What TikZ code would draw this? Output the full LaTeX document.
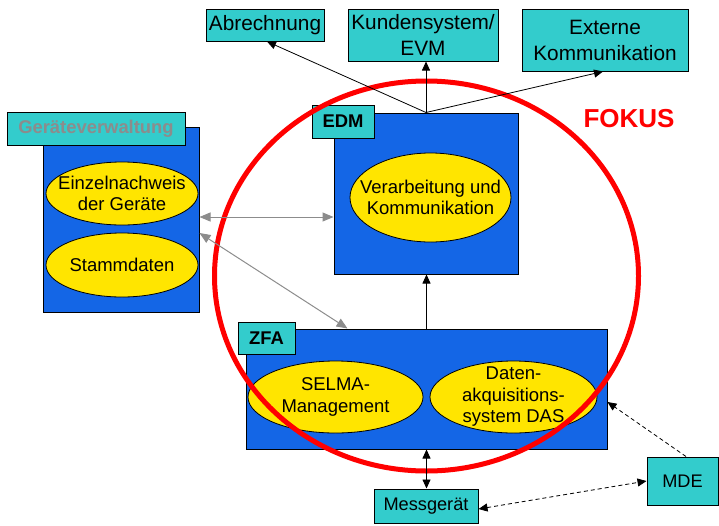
\documentclass[tikz,border=0pt]{standalone}
\usepackage{fontspec}
\setmainfont{Liberation Sans}
\usetikzlibrary{arrows.meta,shapes.geometric}
\definecolor{teal1}{RGB}{51,204,204}
\definecolor{blue1}{RGB}{20,102,230}
\definecolor{yel1}{RGB}{255,229,0}
\definecolor{gray1}{RGB}{140,140,140}
\definecolor{red1}{RGB}{255,0,0}
\tikzset{
  topbox/.style={draw=black,fill=teal1,line width=1pt,inner sep=0pt,align=center,
    font=\fontsize{20.8}{26}\selectfont},
  smallbox/.style={draw=black,fill=teal1,line width=1pt,inner sep=0pt,align=center,
    font=\fontsize{18.2}{22}\selectfont},
  bluebox/.style={draw=black,fill=blue1,line width=1pt,inner sep=0pt},
  tagbox/.style={draw=black,fill=teal1,line width=1pt,inner sep=0pt,
    font=\bfseries\fontsize{18.4}{22}\selectfont},
  oval/.style={ellipse,draw=black,fill=yel1,line width=0.8pt,inner sep=0pt},
  ovaltext/.style={align=center,inner sep=0pt,font=\fontsize{18.5}{21.5}\selectfont},
  arr/.style={line width=0.8pt,-{Triangle[length=9pt,width=8pt]}},
  darr/.style={line width=0.8pt,{Triangle[length=9pt,width=8pt]}-{Triangle[length=9pt,width=8pt]}},
  garr/.style={gray1,line width=1pt,{Triangle[length=11pt,width=9pt]}-{Triangle[length=11pt,width=9pt]}},
  dasharr/.style={line width=0.8pt,dash pattern=on 4pt off 3pt},
}
\begin{document}
\begin{tikzpicture}[x=1pt,y=-1pt]
\useasboundingbox (0,0) rectangle (719,525);
% top boxes
\node[topbox,minimum width=118pt,minimum height=32pt] (abr) at (265,25) {Abrechnung};
\node[topbox,minimum width=150pt,minimum height=52pt] (kun) at (423,35) {Kundensystem/\\EVM};
\node[topbox,minimum width=166pt,minimum height=62pt] (ext) at (605,40) {Externe\\Kommunikation};
% Geraeteverwaltung
\node[bluebox,minimum width=156pt,minimum height=185pt] (ger) at (121,219.5) {};
\node[tagbox,minimum width=178pt,minimum height=33pt,text=gray1] (gertag) at (96,128.5) {Geräteverwaltung};
\node[oval,minimum width=152pt,minimum height=63pt] (ein) at (122,193.5) {};
\node[ovaltext] (eintxt) at (ein) {Einzelnachweis\\der Geräte};
\node[oval,minimum width=152pt,minimum height=64pt] (sta) at (122,265) {};
\node[ovaltext] (statxt) at (sta) {Stammdaten};
% EDM
\node[bluebox,minimum width=184pt,minimum height=161pt] (edm) at (426,193.5) {};
\node[tagbox,minimum width=62pt,minimum height=33pt] (edmtag) at (343,121.5) {EDM};
\node[oval,minimum width=161pt,minimum height=89pt] (ver) at (430.5,197.5) {};
\node[ovaltext] (vertxt) at (ver) {Verarbeitung und\\Kommunikation};
% ZFA
\node[bluebox,minimum width=361pt,minimum height=120pt] (zfa) at (426.5,389) {};
\node[tagbox,minimum width=57pt,minimum height=32pt] (zfatag) at (266.5,338) {ZFA};
\node[oval,minimum width=175pt,minimum height=72pt] (sel) at (335.5,397) {};
\node[ovaltext] (seltxt) at (sel) {SELMA-\\Management};
\node[oval,minimum width=167pt,minimum height=72pt] (das) at (513.5,397) {};
\node[ovaltext] (dastxt) at (das) {Daten-\\akquisitions-\\system DAS};
% bottom boxes
\node[smallbox,minimum width=104pt,minimum height=34pt] (mess) at (426,506) {Messgerät};
\node[smallbox,minimum width=71pt,minimum height=48pt] (mde) at (682.5,481) {MDE};
% focus ellipse
\draw[red1,line width=5pt] (426.5,276) ellipse [x radius=212, y radius=195];
\node[text=red1,font=\bfseries\fontsize{26}{30}\selectfont,inner sep=0pt] (fokus) at (629,119) {FOKUS};
% connectors
\draw[arr] (edm.north) -- ([xshift=2pt]abr.south);
\draw[arr] (edm.north) -- (edm.north |- kun.south);
\draw[arr] (edm.north) -- ([xshift=-2pt]ext.south);
\draw[garr] ([yshift=2.5pt]ger.east) -- ([yshift=2.5pt]ger.east -| edm.west);
\draw[garr] ([yshift=-13.5pt]ger.east) -- ([xshift=102pt]zfa.north west);
\draw[arr] (zfa.north) -- (zfa.north |- edm.south);
\draw[darr] (zfa.south) -- (zfa.south |- mess.north);
\draw[dasharr,{Triangle[length=9pt,width=8pt]}-{Triangle[length=9pt,width=8pt]}] ([yshift=-3pt]mess.east) -- (mde.west);
\draw[dasharr,-{Triangle[length=9pt,width=8pt]}] ([xshift=3.5pt]mde.north) -- ([yshift=-13pt]zfa.east);
\end{tikzpicture}
\end{document}
